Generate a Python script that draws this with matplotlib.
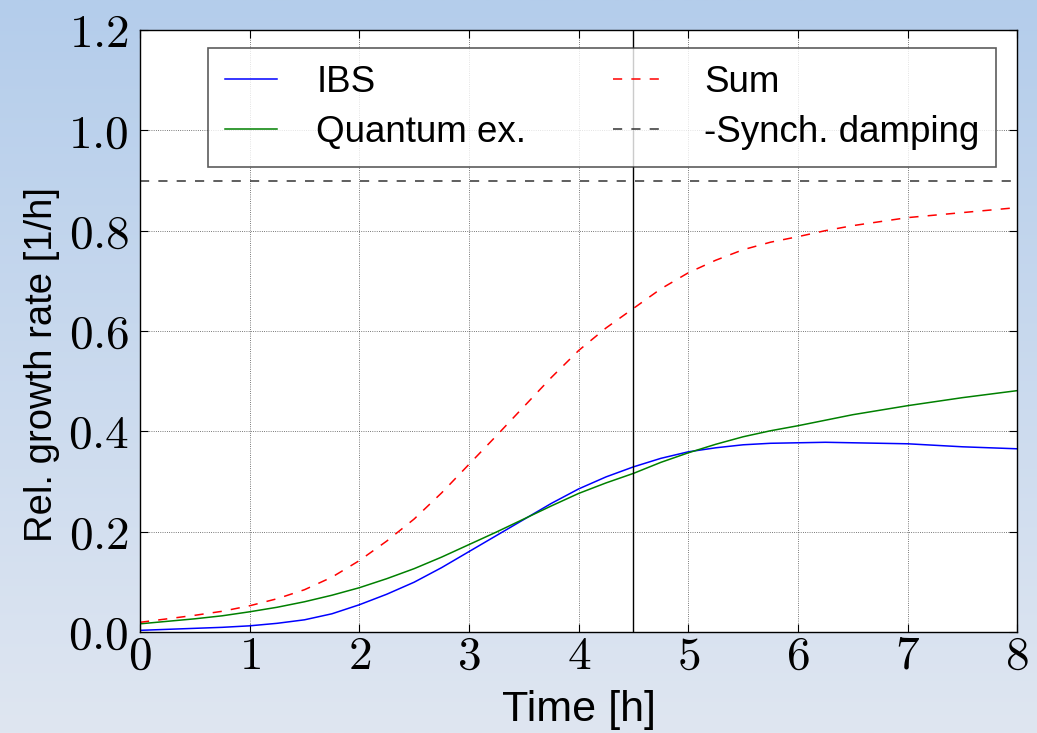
import numpy as np
import matplotlib
matplotlib.use("Agg")
import matplotlib.pyplot as plt
from matplotlib.ticker import FuncFormatter

plt.rcParams["mathtext.fontset"] = "cm"
plt.rcParams["font.family"] = ["Liberation Sans", "DejaVu Sans"]

# values
time_h = [0, 0.25, 0.5, 0.75, 1, 1.25, 1.5, 1.75, 2, 2.25, 2.5, 2.75, 3, 3.25, 3.5, 3.75,
          4, 4.25, 4.5, 4.75, 5, 5.25, 5.5, 5.75, 6, 6.25, 6.5, 6.75, 7, 7.25, 7.5, 7.75, 8]
ibs = [0.003, 0.005, 0.007, 0.009, 0.012, 0.017, 0.024, 0.036, 0.054, 0.075, 0.099,
       0.128, 0.160, 0.192, 0.224, 0.256, 0.285, 0.309, 0.329, 0.346, 0.359, 0.367,
       0.373, 0.376, 0.377, 0.378, 0.377, 0.376, 0.375, 0.372, 0.369, 0.367, 0.365]
quantum = [0.016, 0.021, 0.026, 0.032, 0.040, 0.049, 0.060, 0.073, 0.088, 0.106, 0.126,
           0.149, 0.174, 0.199, 0.225, 0.251, 0.276, 0.297, 0.316, 0.338, 0.357, 0.374,
           0.389, 0.401, 0.411, 0.422, 0.433, 0.442, 0.451, 0.459, 0.467, 0.474, 0.481]
total = [0.019, 0.026, 0.033, 0.041, 0.052, 0.066, 0.084, 0.109, 0.142, 0.181, 0.225,
         0.277, 0.334, 0.391, 0.449, 0.507, 0.561, 0.606, 0.645, 0.684, 0.716, 0.741,
         0.762, 0.777, 0.788, 0.800, 0.810, 0.818, 0.826, 0.831, 0.836, 0.841, 0.846]
synch_damping = 0.9
marker_time = 4.5

fig = plt.figure(figsize=(10.37, 7.33), dpi=100)

# vertical gradient background
bg = fig.add_axes([0, 0, 1, 1], zorder=-10)
top = np.array([180, 205, 235]) / 255
bot = np.array([223, 230, 241]) / 255
t = np.linspace(0, 1, 256)[:, None]
grad = top[None, :] * (1 - t) + bot[None, :] * t
bg.imshow(grad[:, None, :], aspect="auto", extent=[0, 1, 0, 1])
bg.axis("off")

ax = fig.add_axes([0.135, 0.138, 0.846, 0.821])
ax.set_facecolor("white")
ax.plot(time_h, ibs, color="blue", lw=1.1, label="IBS")
ax.plot(time_h, quantum, color="green", lw=1.1, label="Quantum ex.")
ax.plot(time_h, total, color="red", lw=1.1, ls="--", dashes=(6, 6), label="Sum")
ax.axhline(synch_damping, color="#333333", lw=1.1, ls="--", dashes=(6, 6),
           label="-Synch. damping")
ax.axvline(marker_time, color="black", lw=1.0)

ax.set_xlim(0, 8)
ax.set_ylim(0, 1.2)
ax.set_xticks(range(0, 9))
ax.set_yticks([0, 0.2, 0.4, 0.6, 0.8, 1.0, 1.2])
ax.xaxis.set_major_formatter(FuncFormatter(lambda v, p: r"$%d$" % v))
ax.yaxis.set_major_formatter(FuncFormatter(lambda v, p: r"$%.1f$" % v))
ax.tick_params(direction="in", length=6, width=0.8, labelsize=34,
               top=True, right=True)
ax.tick_params(axis="x", pad=2)
ax.tick_params(axis="y", pad=8)
ax.grid(True, ls=":", color="black", lw=0.6, alpha=0.7)
for s in ax.spines.values():
    s.set_linewidth(1.0)

ax.set_xlabel("Time [h]", fontsize=31, labelpad=8)
ax.set_ylabel("Rel. growth rate [1/h]", fontsize=27.5)
ax.yaxis.set_label_coords(-0.091, 0.444)

leg = ax.legend(loc="upper center", ncol=2, fontsize=26.5, fancybox=False,
                bbox_to_anchor=(0.527, 0.970), borderaxespad=0,
                columnspacing=2.36, handlelength=1.42, borderpad=0.45,
                labelspacing=0.42, handletextpad=1.06)
leg.get_frame().set_edgecolor("#333333")
leg.get_frame().set_linewidth(1.2)

fig.savefig("out.png", dpi=100)
